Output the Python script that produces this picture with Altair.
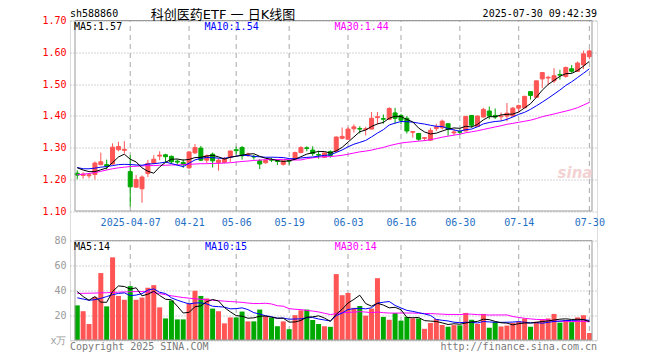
import altair as alt
import pandas as pd
import numpy as np

# ---------------- data ----------------
open_ = [1.219,1.212,1.211,1.215,1.246,1.246,1.248,1.293,1.291,1.224,
         1.175,1.170,1.218,1.250,1.273,1.277,1.272,1.257,1.253,1.236,
         1.283,1.298,1.260,1.279,1.253,1.253,1.270,1.293,1.300,1.276,
         1.272,1.258,1.252,1.262,1.258,1.247,1.259,1.263,1.284,1.299,
         1.292,1.278,1.269,1.287,1.287,1.329,1.326,1.359,1.360,1.357,
         1.358,1.394,1.391,1.389,1.409,1.401,1.392,1.348,1.344,1.329,
         1.323,1.360,1.362,1.375,1.346,1.350,1.352,1.401,1.366,1.396,
         1.415,1.401,1.397,1.399,1.399,1.424,1.425,1.476,1.458,1.516,
         1.519,1.510,1.530,1.524,1.548,1.540,1.560,1.586]
high = [1.228,1.222,1.220,1.256,1.284,1.262,1.313,1.318,1.320,1.276,
        1.213,1.212,1.261,1.276,1.288,1.280,1.275,1.263,1.263,1.288,
        1.311,1.305,1.278,1.284,1.266,1.270,1.290,1.303,1.305,1.284,
        1.277,1.263,1.262,1.268,1.264,1.260,1.263,1.287,1.304,1.304,
        1.304,1.290,1.284,1.291,1.335,1.363,1.364,1.373,1.367,1.365,
        1.412,1.412,1.404,1.427,1.425,1.406,1.399,1.351,1.346,1.333,
        1.362,1.375,1.388,1.375,1.358,1.357,1.399,1.401,1.401,1.425,
        1.429,1.423,1.410,1.440,1.428,1.435,1.463,1.476,1.510,1.536,
        1.526,1.550,1.545,1.555,1.560,1.571,1.605,1.609]
low = [1.200,1.202,1.203,1.199,1.244,1.230,1.246,1.288,1.281,1.114,
       1.174,1.126,1.207,1.248,1.260,1.253,1.248,1.243,1.236,1.232,
       1.280,1.257,1.251,1.237,1.227,1.250,1.254,1.278,1.262,1.270,
       1.262,1.232,1.249,1.254,1.245,1.243,1.246,1.261,1.282,1.288,
       1.274,1.265,1.267,1.268,1.285,1.326,1.326,1.347,1.344,1.338,
       1.358,1.373,1.375,1.386,1.375,1.373,1.344,1.331,1.321,1.321,
       1.321,1.352,1.357,1.337,1.339,1.341,1.351,1.363,1.365,1.395,
       1.389,1.390,1.384,1.383,1.398,1.410,1.424,1.451,1.457,1.487,
       1.497,1.503,1.514,1.520,1.535,1.538,1.547,1.578]
close = [1.213,1.216,1.214,1.251,1.255,1.241,1.301,1.303,1.294,1.176,
         1.199,1.207,1.250,1.263,1.276,1.271,1.255,1.254,1.246,1.286,
         1.300,1.260,1.274,1.258,1.260,1.265,1.289,1.290,1.274,1.279,
         1.270,1.248,1.259,1.260,1.256,1.258,1.257,1.284,1.300,1.297,
         1.281,1.276,1.283,1.275,1.333,1.335,1.358,1.365,1.358,1.359,
         1.392,1.397,1.389,1.423,1.392,1.386,1.352,1.350,1.326,1.331,
         1.354,1.365,1.383,1.357,1.349,1.348,1.398,1.370,1.399,1.420,
         1.399,1.396,1.399,1.408,1.424,1.432,1.461,1.464,1.510,1.536,
         1.521,1.526,1.528,1.552,1.540,1.566,1.595,1.604]
volume = [27.9,23.2,12.9,34.7,53.9,27.1,66.6,35.5,32.4,43.4,
          32.4,34.2,42.1,44.2,26.3,17.4,31.8,16.6,16.6,29.2,
          39.7,35.5,33.5,25.3,23.2,13.4,18.2,18.2,22.9,15.0,
          15.0,24.5,19.2,17.9,11.1,15.0,8.7,20.0,23.9,24.5,
          16.1,12.9,11.1,10.6,53.1,36.1,37.9,25.9,27.4,19.6,
          25.3,49.8,18.6,16.3,21.7,15.6,18.6,17.5,17.4,9.0,
          13.7,16.9,12.1,10.7,12.0,11.8,21.8,16.3,13.0,21.0,
          9.9,14.6,10.9,11.6,13.8,14.9,17.3,10.7,14.7,16.8,
          17.4,21.0,14.0,16.0,14.4,18.2,20.0,5.6]

# moving-average values for the first days (window not yet full)
price_ma5_early = [1.236, 1.229, 1.224, 1.224]
price_ma10_early = [1.237, 1.233, 1.233, 1.235, 1.238, 1.240, 1.243, 1.246, 1.247]
price_ma30_early = [1.214, 1.216, 1.218, 1.221, 1.225, 1.229, 1.233, 1.236, 1.238, 1.240,
                    1.241, 1.242, 1.243, 1.243, 1.244, 1.244, 1.245, 1.245, 1.246, 1.247,
                    1.248, 1.249, 1.249, 1.250, 1.250, 1.251, 1.252, 1.254, 1.256]
vol_ma5_early = [39, 35, 32, 35]
vol_ma10_early = [34, 33, 32, 32.5, 33.5, 35, 36.5, 37.5, 38]
vol_ma30_early = [37.6, 37.6, 37.7, 37.8, 38.0, 38.1, 38.3, 38.5, 38.7, 38.9,
                  39.0, 39.0, 38.8, 38.2, 37.4, 36.5, 35.6, 34.9, 34.2, 33.7,
                  33.2, 32.8, 32.4, 32.0, 31.7, 31.3, 31.0, 30.7, 30.3]

tick_index = [9, 19, 27, 36, 46, 55, 65, 75, 87]
tick_labels = ["2025-04-07", "04-21", "05-06", "05-19", "06-03", "06-16", "06-30", "07-14", "07-30"]
price_ticks = [1.1, 1.2, 1.3, 1.4, 1.5, 1.6, 1.7]
vol_ticks = [0, 20, 40, 60, 80]

price_legend = ["MA5:1.57", "MA10:1.54", "MA30:1.44"]
vol_legend = ["MA5:14", "MA10:15", "MA30:14"]

# ---------------- styling ----------------
RED = "#ff5555"
GREEN = "#00a800"
MONO = "DejaVu Sans Mono"
TITLE_FONT = "DejaVu Sans, Noto Sans CJK SC"
MA_COLORS = ["#000000", "#0000ff", "#ff00ff"]
GRID = "#a8a8a8"
FRAME = "#999999"

n = len(close)
df = pd.DataFrame({"i": np.arange(n), "open": open_, "high": high, "low": low,
                   "close": close, "vol": volume})
df["col"] = np.where(df["close"] >= df["open"], RED, GREEN)


def ma(values, w, early):
    m = pd.Series(values, dtype=float).rolling(w).mean()
    m.iloc[:w - 1] = early
    return m.values


df["p5"] = ma(close, 5, price_ma5_early)
df["p10"] = ma(close, 10, price_ma10_early)
df["p30"] = ma(close, 30, price_ma30_early)
df["v5"] = ma(volume, 5, vol_ma5_early)
df["v10"] = ma(volume, 10, vol_ma10_early)
df["v30"] = ma(volume, 30, vol_ma30_early)

ticks_df = pd.DataFrame({"i": tick_index})

W, H = 527, 319.5
X_DOMAIN = [-0.383, 87.45]
XS = alt.Scale(domain=X_DOMAIN, nice=False, zero=False)
label_expr = " : ".join(f"datum.value == {i} ? '{l}'" for i, l in zip(tick_index, tick_labels)) + " : ''"
XAX = alt.Axis(values=tick_index, labelExpr=label_expr, grid=False, ticks=False, domain=False,
               labelColor="#1f6fc4", labelFont=MONO, labelFontSize=10, labelPadding=6,
               offset=-129, title=None, labelFlush=5, labelOverlap=False)
X = alt.X("i:Q", scale=XS, axis=XAX)

PS = alt.Scale(domain=[1.1, 1.7], range=[190.5, 0], nice=False, zero=False)
PAX = alt.Axis(values=price_ticks, format=".2f", orient="left", grid=True, gridDash=[1, 2],
               gridColor=GRID, ticks=False, domain=False, labelColor="#ff0000",
               labelFont=MONO, labelFontSize=10, labelPadding=4, title=None)
VS = alt.Scale(domain=[0, 80], range=[319.5, 220.2], nice=False)
VAX = alt.Axis(values=vol_ticks, orient="left", grid=True, gridDash=[1, 2], gridColor=GRID,
               ticks=False, domain=False, labelColor="#999999", labelFont=MONO,
               labelFontSize=10, labelPadding=4, title=None,
               labelExpr="datum.value == 0 ? 'x万' : datum.label")


def py(field):
    return alt.Y(field, type="quantitative", scale=PS, axis=PAX)


def vy(field):
    return alt.Y(field, type="quantitative", scale=VS, axis=VAX)


# ---------------- price panel ----------------
p_vgrid = alt.Chart(ticks_df).mark_rule(color=GRID, strokeDash=[5, 4], strokeWidth=1).encode(
    x=X, y=alt.YDatum(1.1, type="quantitative", scale=PS, axis=PAX), y2=alt.Y2Datum(1.7))
wicks = alt.Chart(df).mark_rule(strokeWidth=1).encode(
    x=X, y=py("low"), y2=alt.Y2("high"), color=alt.Color("col:N", scale=None))
bodies = alt.Chart(df).mark_bar(size=4, strokeWidth=1).encode(
    x=X, y=py("open"), y2=alt.Y2("close"),
    color=alt.Color("col:N", scale=None), stroke=alt.Stroke("col:N", scale=None))
p_lines = [alt.Chart(df).mark_line(color=c, strokeWidth=1).encode(x=X, y=py(f))
           for f, c in zip(["p30", "p10", "p5"], MA_COLORS[::-1])]
p_frame = alt.Chart(ticks_df.head(1)).mark_rect(filled=False, stroke=FRAME, strokeWidth=1).encode(
    x=alt.XDatum(X_DOMAIN[0], type="quantitative", scale=XS, axis=XAX), x2=alt.X2Datum(X_DOMAIN[1]),
    y=alt.YDatum(1.1, type="quantitative", scale=PS, axis=PAX), y2=alt.Y2Datum(1.7))
price = alt.layer(p_vgrid, wicks, bodies, *p_lines, p_frame)

# ---------------- volume panel ----------------
v_vgrid = alt.Chart(ticks_df).mark_rule(color=GRID, strokeDash=[5, 4], strokeWidth=1).encode(
    x=X, y=alt.YDatum(0, type="quantitative", scale=VS, axis=VAX), y2=alt.Y2Datum(80))
vbars = alt.Chart(df).mark_bar(size=5).encode(
    x=X, y=vy("vol"), color=alt.Color("col:N", scale=None))
v_lines = [alt.Chart(df).mark_line(color=c, strokeWidth=1).encode(x=X, y=vy(f))
           for f, c in zip(["v30", "v10", "v5"], MA_COLORS[::-1])]
v_frame = alt.Chart(ticks_df.head(1)).mark_rect(filled=False, stroke=FRAME, strokeWidth=1).encode(
    x=alt.XDatum(X_DOMAIN[0], type="quantitative", scale=XS, axis=XAX), x2=alt.X2Datum(X_DOMAIN[1]),
    y=alt.YDatum(0, type="quantitative", scale=VS, axis=VAX), y2=alt.Y2Datum(80))
volume_panel = alt.layer(v_vgrid, vbars, *v_lines, v_frame)

# ---------------- texts ----------------
ONE = pd.DataFrame({"k": [0]})


def label(txt, x, y, color="#000000", size=10, font=MONO, align="left", **kw):
    return alt.Chart(ONE).mark_text(text=txt, color=color, fontSize=size, font=font,
                                    align=align, baseline="middle", **kw).encode(
        x=alt.value(x), y=alt.value(y))


texts = [
    label("sh588860", 0, -6.5),
    label("科创医药ETF 一 日K线图", 153, -5.7, size=13, font=TITLE_FONT, align="center"),
    label("2025-07-30 09:42:39", W, -6.5, align="right"),
    label(price_legend[0], 4, 6.3, MA_COLORS[0]),
    label(price_legend[1], 134.5, 6.3, MA_COLORS[1]),
    label(price_legend[2], 264.6, 6.3, MA_COLORS[2]),
    label(vol_legend[0], 4, 226.5, MA_COLORS[0]),
    label(vol_legend[1], 135, 226.5, MA_COLORS[1]),
    label(vol_legend[2], 264.7, 226.5, MA_COLORS[2]),
    label("Copyright 2025 SINA.COM", 0, 326, "#7a7a7a"),
    label("http://finance.sina.com.cn", W, 326, "#7a7a7a", align="right"),
    label("sina", 505, 152, "#f2d2d2", size=15, font="DejaVu Sans", align="center",
          fontStyle="italic", fontWeight="bold"),
]

chart = alt.layer(price, volume_panel, *texts).resolve_scale(y="independent").properties(
    width=W, height=H,
    padding={"left": 62, "top": 12.5, "right": 40, "bottom": 16},
    autosize=alt.AutoSizeParams(type="none"),
).configure_view(stroke=None).configure(background="white")

chart.save("out.html", embed_options={"renderer": "svg", "actions": False})
